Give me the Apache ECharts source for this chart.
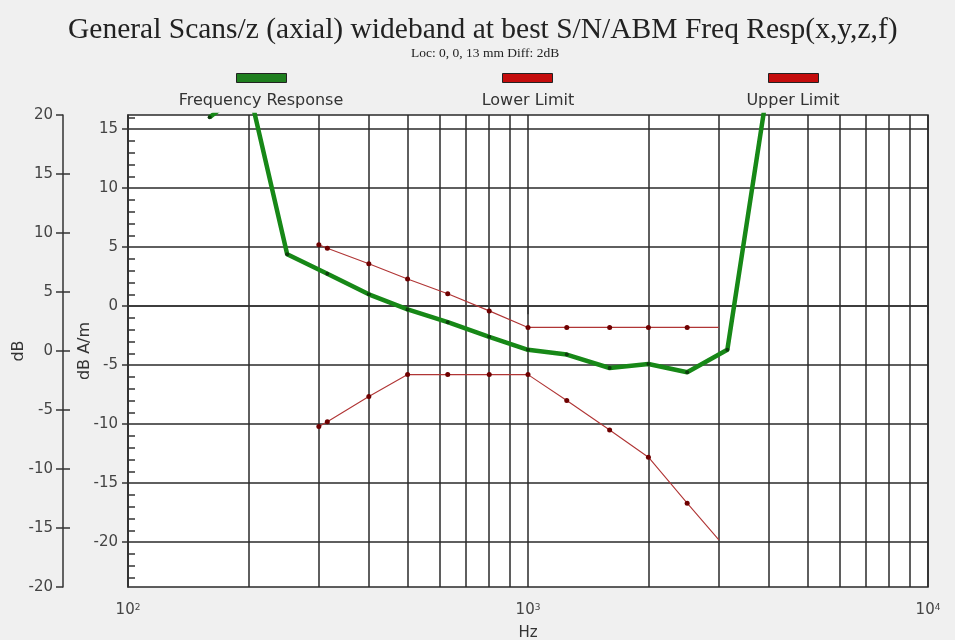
<!DOCTYPE html>
<html><head><meta charset="utf-8">
<script src="https://cdn.jsdelivr.net/npm/echarts@6/dist/echarts.min.js"></script>
<style>html,body{margin:0;padding:0;background:#f0f0f0}#c{width:955px;height:640px}</style>
</head><body><div id="c"></div>
<script>
// ---- data ----
const titleText = 'General Scans/z (axial) wideband at best S/N/ABM Freq Resp(x,y,z,f)';
const subTitleText = 'Loc: 0, 0, 13 mm Diff: 2dB';
const seriesNames = ['Frequency Response', 'Lower Limit', 'Upper Limit'];
const respFreq = [160, 200, 250, 315, 400, 500, 630, 800, 1000, 1250, 1600, 2000, 2500, 3150, 4000];
const respDbAm = [16.0, 18.6, 4.4, 2.75, 1.0, -0.28, -1.36, -2.6, -3.7, -4.1, -5.24, -4.9, -5.6, -3.7, 19.2];
const limitFreq = [300, 315, 400, 500, 630, 800, 1000, 1250, 1600, 2000, 2500, 3000];
const upperLimitDb = [9.0, 8.7, 7.4, 6.1, 4.85, 3.4, 2, 2, 2, 2, 2, 2];
const lowerLimitDb = [-6.4, -6.0, -3.85, -2, -2, -2, -2, -4.2, -6.7, -9, -12.9, -16];
const dbAmTicks = [-20, -15, -10, -5, 0, 5, 10, 15];
const dbAmMinorTicks = [-23,-22,-21,-19,-18,-17,-16,-14,-13,-12,-11,-9,-8,-7,-6,-4,-3,-2,-1,1,2,3,4,6,7,8,9,11,12,13,14,16];
const dbInnerTicks = [-15, -10, -5, 0, 5, 10, 15];
const freqGridLines = [100,200,300,400,500,600,700,800,900,1000,2000,3000,4000,5000,6000,7000,8000,9000,10000];
const dbAmRange = [-23.8, 16.2];
const dbRange = [-20, 20];

// ---- chart ----
const chart = echarts.init(document.getElementById('c'), null, {renderer: 'canvas'});
const sans = 'DejaVu Sans';
const gridCol = '#2a2a2a';
const pairs = (xs, ys) => xs.map((x, i) => [x, ys[i]]);
const limitSymbolSize = (v, p) => (p.dataIndex === limitFreq.length - 1 ? 0 : 5);

const option = {
  backgroundColor: '#f0f0f0',
  animation: false,
  title: [
    {text: titleText, left: 63, top: 10,
     textStyle: {fontFamily: 'Liberation Serif', fontSize: 29.5, fontWeight: 'normal', color: '#222'}},
    {text: subTitleText, left: 406, top: 41,
     textStyle: {fontFamily: 'Liberation Serif', fontSize: 13.5, fontWeight: 'normal', color: '#222'}}
  ],
  legend: [0, 1, 2].map((i) => ({
    left: [236, 502, 768][i], top: 73,
    data: [{name: seriesNames[i], icon: 'rect',
            itemStyle: {color: i === 0 ? '#1f7f1f' : '#c40c0c', borderColor: '#222', borderWidth: 1}}],
    itemWidth: 50, itemHeight: 9, selectedMode: false,
    formatter: () => '', padding: 0
  })),
  graphic: [0, 1, 2].map((i) => ({type: 'text', x: [261, 528, 793][i], y: 101,
    style: {text: seriesNames[i], font: '16px "DejaVu Sans"', fill: '#333', align: 'center', verticalAlign: 'middle'}})),
  grid: {left: 128, right: 27, top: 115, bottom: 53, show: true, backgroundColor: '#ffffff',
         borderColor: gridCol, borderWidth: 1.5, containLabel: false, outerBoundsMode: 'none'},
  xAxis: [
    {type: 'log', logBase: 10, min: 100, max: 10000, splitNumber: 2, position: 'bottom',
     axisLine: {show: true, lineStyle: {color: '#333', width: 1.5}},
     axisTick: {show: true, length: 8, lineStyle: {color: '#333', width: 1.5}},
     axisLabel: {margin: 16, color: '#444', fontFamily: sans, fontSize: 15,
       formatter: (v) => '{b|10}{s|' + Math.round(Math.log10(v)) + '}',
       rich: {b: {fontFamily: sans, fontSize: 15, color: '#444'},
              s: {fontFamily: sans, fontSize: 9, color: '#444', verticalAlign: 'top', padding: [0, 0, 6, 0]}}},
     splitLine: {show: false},
     name: 'Hz', nameLocation: 'middle', nameGap: 39, nameMoveOverlap: false,
     nameTextStyle: {fontFamily: sans, fontSize: 15, color: '#333'}},
    {type: 'value', min: Math.log10(freqGridLines[0]), max: Math.log10(freqGridLines[freqGridLines.length - 1]),
     position: 'bottom', show: true,
     axisLine: {show: false}, axisLabel: {show: false},
     axisTick: {show: false, customValues: freqGridLines.map((f) => Math.log10(f))},
     splitLine: {show: true, lineStyle: {color: gridCol, width: 1.5}}}
  ],
  yAxis: [
    {type: 'value', position: 'left', offset: 0, min: dbAmRange[0], max: dbAmRange[1],
     axisLine: {show: true, lineStyle: {color: '#333', width: 1.5}},
     axisTick: {show: true, customValues: dbAmTicks, length: 6, lineStyle: {color: '#333', width: 1.5}},
     axisLabel: {customValues: dbAmTicks, margin: 10, color: '#444', fontFamily: sans, fontSize: 15},
     splitLine: {show: true, lineStyle: {color: gridCol, width: 1.5}},
     name: 'dB A/m', nameLocation: 'middle', nameGap: 35, nameRotate: 90, nameMoveOverlap: false,
     nameTextStyle: {fontFamily: sans, fontSize: 16, color: '#333'}},
    {type: 'value', position: 'left', offset: 0, min: dbAmRange[0], max: dbAmRange[1],
     axisLine: {show: false}, axisLabel: {show: false}, splitLine: {show: false},
     axisTick: {show: true, inside: true, length: 7, customValues: dbAmMinorTicks, lineStyle: {color: '#333', width: 1.5}}},
    {type: 'value', position: 'left', offset: 65, min: dbRange[0], max: dbRange[1], interval: 5,
     axisLine: {show: true, lineStyle: {color: '#333', width: 1.5}},
     axisTick: {show: true, length: 7, lineStyle: {color: '#333', width: 1.5}},
     axisLabel: {margin: 10, color: '#444', fontFamily: sans, fontSize: 15},
     splitLine: {show: false},
     name: 'dB', nameLocation: 'middle', nameGap: 36, nameRotate: 90, nameMoveOverlap: false,
     nameTextStyle: {fontFamily: sans, fontSize: 16, color: '#333'}},
    {type: 'value', position: 'left', offset: 65, min: dbRange[0], max: dbRange[1],
     axisLine: {show: false}, axisLabel: {show: false}, splitLine: {show: false},
     axisTick: {show: true, inside: true, length: 7, customValues: dbInnerTicks, lineStyle: {color: '#333', width: 1.5}}}
  ],
  series: [
    {name: seriesNames[1], type: 'line', xAxisIndex: 0, yAxisIndex: 2, z: 3,
     data: pairs(limitFreq, lowerLimitDb), symbol: 'circle', symbolSize: limitSymbolSize,
     lineStyle: {color: '#b03535', width: 1.1}, itemStyle: {color: '#6e0000'}},
    {name: seriesNames[2], type: 'line', xAxisIndex: 0, yAxisIndex: 2, z: 3,
     data: pairs(limitFreq, upperLimitDb), symbol: 'circle', symbolSize: limitSymbolSize,
     lineStyle: {color: '#b03535', width: 1.1}, itemStyle: {color: '#6e0000'}},
    {name: seriesNames[0], type: 'line', xAxisIndex: 0, yAxisIndex: 0, z: 4,
     data: pairs(respFreq, respDbAm), symbol: 'circle', symbolSize: 4,
     lineStyle: {color: '#178817', width: 4.5}, itemStyle: {color: '#0d3d0d'}}
  ]
};
chart.setOption(option);
</script></body></html>
